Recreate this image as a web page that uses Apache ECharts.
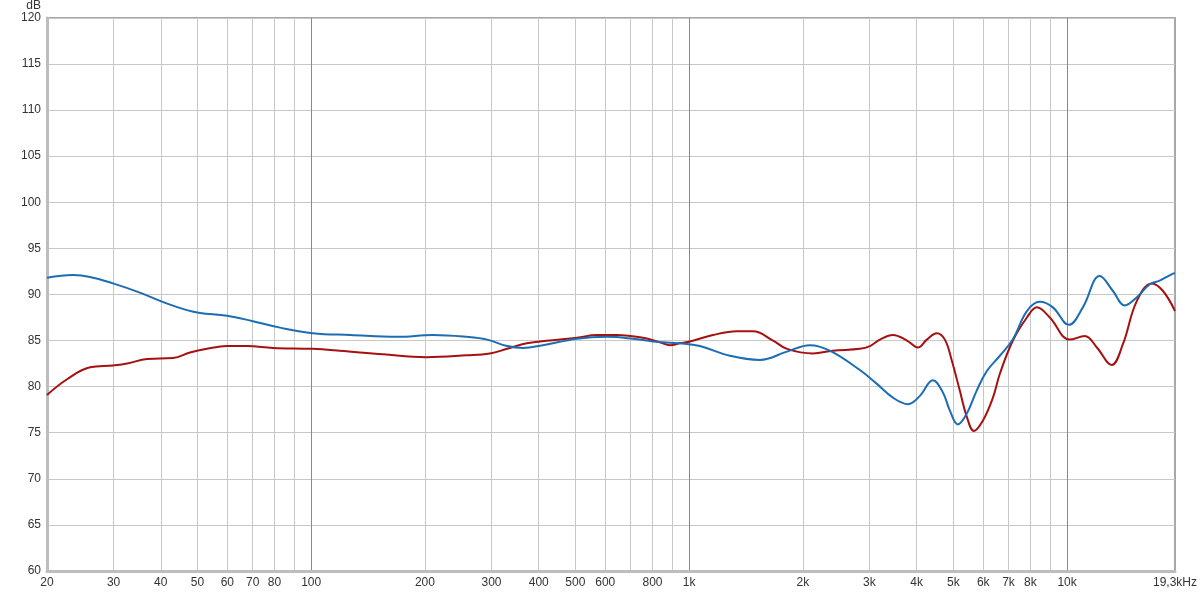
<!DOCTYPE html>
<html>
<head>
<meta charset="utf-8">
<script src="https://cdn.jsdelivr.net/npm/echarts@6/dist/echarts.min.js"></script>
<style>html,body{margin:0;padding:0;background:#fff}#c{width:1200px;height:593px}</style>
</head>
<body>
<div id="c"></div>
<script>
// Frequencies (Hz) and levels (dB)
const blueFreq = [20,23.4,26,29.9,35.2,41.6,46.9,50.8,59.9,70.1,82.7,101,127,169,210,258,292,330,363,410,505,606,710,802,945,1068,1282,1539,1815,2089,2356,2830,3140,3461,3795,4080,4414,4690,4897,5140,5432,5770,6135,6640,7190,7830,8470,9170,10110,11010,12210,13210,14220,15300,16560,17580,19060,19300];
const blueDb   = [91.8,92.1,91.9,91.2,90.2,89.0,88.3,88.0,87.7,87.1,86.4,85.8,85.6,85.4,85.6,85.4,85.1,84.4,84.2,84.5,85.2,85.4,85.2,84.9,84.7,84.4,83.35,82.9,83.8,84.5,83.9,81.8,80.3,78.8,78.1,79.0,80.7,79.4,77.4,75.9,77.1,79.6,81.7,83.35,85.15,88.2,89.2,88.6,86.7,88.6,92.0,90.4,88.8,89.7,91.1,91.5,92.25,92.3];
const redFreq  = [20,22.6,26,29.9,32.6,36.8,43.1,47.8,53,59.9,67.6,79.2,101,119,155,202,258,297,330,372,428,505,570,644,755,837,890,945,1005,1156,1338,1475,1667,1815,2126,2400,2830,3009,3199,3461,3770,4028,4256,4520,4750,4956,5200,5432,5670,5985,6365,6640,7190,7830,8320,9000,10170,11140,11990,13130,14050,15300,16760,17920,19300];
const redDb    = [79.1,80.8,82.1,82.3,82.5,83.0,83.1,83.7,84.1,84.4,84.4,84.2,84.1,83.9,83.5,83.2,83.4,83.6,84.1,84.7,85.0,85.3,85.6,85.6,85.3,84.8,84.5,84.7,84.9,85.6,86.0,86.0,85.0,84.1,83.6,83.9,84.1,84.4,85.1,85.6,85.0,84.25,85.1,85.8,85.1,82.8,79.6,76.7,75.2,76.3,78.8,81.4,85.0,87.5,88.6,87.5,85.1,85.5,84.25,82.35,84.6,89.3,91.2,90.4,88.2];

const xLabelValues = [20,30,40,50,60,70,80,100,200,300,400,500,600,800,1000,2000,3000,4000,5000,6000,7000,8000,10000,19300];
const xGridValues  = [30,40,50,60,70,80,90,100,200,300,400,500,600,700,800,900,1000,2000,3000,4000,5000,6000,7000,8000,9000,10000];
const yMin = 60, yMax = 120, yStep = 5;

function fmtFreq(v) {
  if (Math.abs(v - 19300) < 1) return '19,3kHz';
  if (v >= 1000) return (v / 1000) + 'k';
  return String(v);
}
const decade = v => [100, 1000, 10000].indexOf(v) >= 0;
const gridColors = xGridValues.map(v => decade(v) ? '#8a8a8a' : '#c8c8c8');

const font = 'Liberation Sans, Arial, sans-serif';
const chart = echarts.init(document.getElementById('c'), null, {renderer: 'canvas'});
chart.setOption({
  animation: false,
  backgroundColor: '#ffffff',
  grid: {left: 47, right: 23, top: 16, bottom: 22, show: true, borderColor: '#a8a8a8', borderWidth: 2, containLabel: false},
  xAxis: {
    type: 'log', logBase: 10, min: 20, max: 19300,
    axisLine: {show: true, onZero: false, lineStyle: {color: '#bdbdbd', width: 3}},
    axisTick: {show: false, customValues: xGridValues},
    axisLabel: {customValues: xLabelValues, formatter: fmtFreq, color: '#333', fontSize: 12, fontFamily: font, margin: 6, showMinLabel: true, showMaxLabel: true},
    splitLine: {show: true, lineStyle: {color: gridColors, width: 1}},
    minorSplitLine: {show: false}
  },
  yAxis: {
    type: 'value', min: yMin, max: yMax, interval: yStep,
    name: 'dB', nameLocation: 'end', nameGap: 2,
    nameTextStyle: {color: '#333', fontSize: 12, fontFamily: font, align: 'right', verticalAlign: 'bottom', padding: [0, 6, 0, 0]},
    axisLine: {show: true, lineStyle: {color: '#bdbdbd', width: 3}},
    axisTick: {show: false},
    axisLabel: {color: '#333', fontSize: 12, fontFamily: font, margin: 6},
    splitLine: {show: true, lineStyle: {color: '#c8c8c8', width: 1}}
  },
  series: [
    {type: 'line', name: 'R', data: redFreq.map((f, i) => [f, redDb[i]]), smooth: 0.4, showSymbol: false, symbol: 'none',
     lineStyle: {color: '#a51010', width: 2}, z: 3},
    {type: 'line', name: 'L', data: blueFreq.map((f, i) => [f, blueDb[i]]), smooth: 0.4, showSymbol: false, symbol: 'none',
     lineStyle: {color: '#1c6db3', width: 2}, z: 4}
  ]
});
</script>
</body>
</html>
